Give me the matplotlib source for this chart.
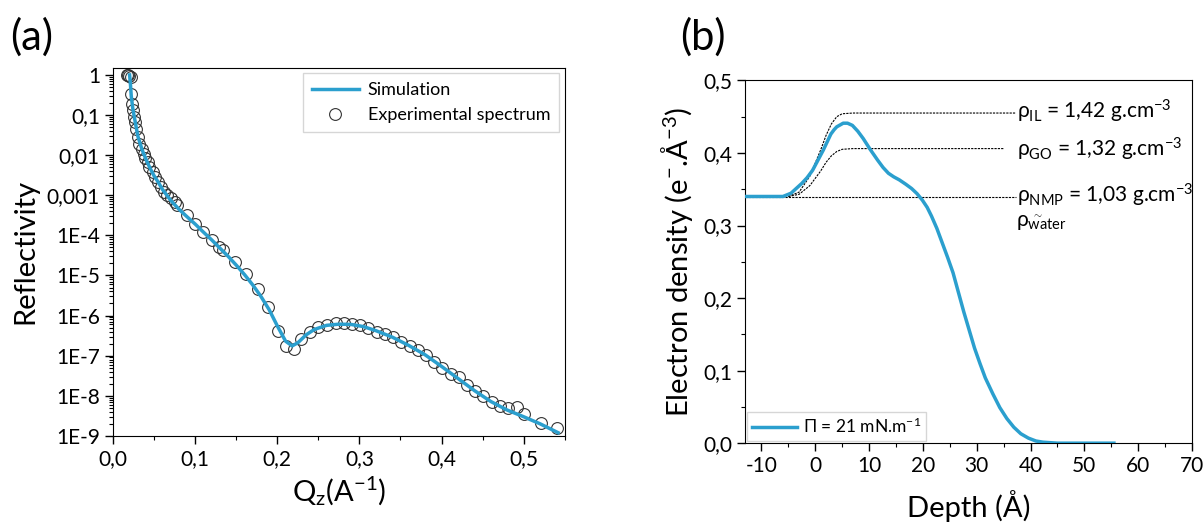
import numpy as np
import matplotlib
matplotlib.use("Agg")
import matplotlib.pyplot as plt
from matplotlib.ticker import FixedLocator, FixedFormatter, MultipleLocator, LogLocator, NullFormatter

plt.rcParams['font.family'] = ['Lato', 'DejaVu Sans']
plt.rcParams['mathtext.fontset'] = 'custom'
plt.rcParams['mathtext.rm'] = 'Lato'
plt.rcParams['mathtext.it'] = 'Lato:italic'
plt.rcParams['mathtext.bf'] = 'Lato:bold'

# ---------------- (a) reflectivity data ----------------
exp_q = [0.017, 0.018, 0.019, 0.022, 0.022, 0.023, 0.024, 0.025, 0.027, 0.028, 0.030,
         0.032, 0.035, 0.037, 0.039, 0.042, 0.044, 0.048, 0.051, 0.055, 0.058, 0.062,
         0.066, 0.070, 0.075, 0.078, 0.090, 0.100, 0.110, 0.120, 0.129, 0.134, 0.149,
         0.162, 0.176, 0.189, 0.201, 0.210, 0.220, 0.229, 0.240, 0.250, 0.261, 0.271,
         0.281, 0.291, 0.301, 0.311, 0.321, 0.331, 0.341, 0.351, 0.361, 0.371, 0.381,
         0.391, 0.401, 0.411, 0.421, 0.431, 0.441, 0.451, 0.461, 0.471, 0.481, 0.492,
         0.501, 0.521, 0.541]
exp_r = [1.0, 1.0, 0.95, 0.88, 0.34, 0.19, 0.13, 0.089, 0.066, 0.045, 0.028,
         0.019, 0.0145, 0.0108, 0.0087, 0.0068, 0.005, 0.0038, 0.0028, 0.0021, 0.0016, 0.0012,
         0.001, 8.3e-4, 6.8e-4, 5.6e-4, 3.2e-4, 1.96e-4, 1.22e-4, 7.6e-5, 5.0e-5, 4.3e-5, 2.2e-5,
         1.07e-5, 4.5e-6, 1.6e-6, 4.2e-7, 1.7e-7, 1.5e-7, 2.6e-7, 4.0e-7, 5.1e-7, 5.8e-7, 6.4e-7,
         6.4e-7, 6.2e-7, 5.7e-7, 4.8e-7, 4.0e-7, 3.5e-7, 2.9e-7, 2.2e-7, 1.75e-7, 1.4e-7, 1.04e-7,
         7.1e-8, 4.9e-8, 3.5e-8, 2.9e-8, 1.86e-8, 1.35e-8, 9.6e-9, 6.8e-9, 5.6e-9, 4.9e-9, 5.2e-9,
         3.5e-9, 2.1e-9, 1.56e-9]

sim_q = [0.020, 0.021, 0.022, 0.024, 0.027, 0.030, 0.035, 0.040, 0.045, 0.050, 0.055,
         0.060, 0.070, 0.080, 0.090, 0.100, 0.110, 0.120, 0.130, 0.140, 0.150, 0.160,
         0.170, 0.180, 0.190, 0.200, 0.210, 0.218, 0.225, 0.235, 0.245, 0.260, 0.275,
         0.290, 0.305, 0.320, 0.340, 0.360, 0.380, 0.400, 0.420, 0.440, 0.460, 0.480,
         0.500, 0.520, 0.542]
sim_r = [1.0, 0.6, 0.3, 0.14, 0.065, 0.03, 0.014, 0.0078, 0.0047, 0.003, 0.0021,
         0.0014, 7.5e-4, 4.5e-4, 2.9e-4, 1.9e-4, 1.2e-4, 7.7e-5, 4.8e-5, 3.0e-5, 1.8e-5, 1.05e-5,
         5.8e-6, 3.0e-6, 1.4e-6, 5.5e-7, 2.3e-7, 1.75e-7, 2.1e-7, 3.3e-7, 4.5e-7, 5.7e-7, 6.1e-7,
         6.0e-7, 5.3e-7, 4.2e-7, 2.9e-7, 1.8e-7, 1.05e-7, 5.4e-8, 2.7e-8, 1.35e-8, 7.2e-9, 4.4e-9,
         3.0e-9, 2.0e-9, 1.2e-9]

a_xticks = [0.0, 0.1, 0.2, 0.3, 0.4, 0.5]
a_xticklabels = ['0,0', '0,1', '0,2', '0,3', '0,4', '0,5']
a_yticks = [1, 1e-1, 1e-2, 1e-3, 1e-4, 1e-5, 1e-6, 1e-7, 1e-8, 1e-9]
a_yticklabels = ['1', '0,1', '0,01', '0,001', '1E-4', '1E-5', '1E-6', '1E-7', '1E-8', '1E-9']

# ---------------- (b) electron density data ----------------
dep_z = [-13, -8, -6, -4.5, -2.5, -1.5, -0.5, 0.5, 1.5, 2.9, 3.5, 4.0, 5.2, 6.0, 6.9, 7.9,
         8.9, 10.2, 11.6, 12.6, 13.6, 14.6, 15.6, 16.8, 17.9, 18.9, 19.9, 20.8, 21.6, 22.6,
         23.6, 24.6, 25.6, 26.6, 27.6, 28.6, 29.6, 30.6, 31.6, 33.0, 34.3, 35.6, 36.9, 38.2,
         39.6, 41.0, 42.3, 45.0, 50.0, 55.5]
dep_rho = [0.340, 0.340, 0.340, 0.3445, 0.358, 0.366, 0.376, 0.390, 0.404, 0.426, 0.432,
           0.436, 0.441, 0.441, 0.438, 0.430, 0.420, 0.405, 0.390, 0.380, 0.372, 0.367,
           0.363, 0.357, 0.351, 0.344, 0.335, 0.325, 0.313, 0.296, 0.276, 0.256, 0.235,
           0.208, 0.181, 0.156, 0.131, 0.110, 0.090, 0.068, 0.049, 0.034, 0.022, 0.013,
           0.007, 0.003, 0.0014, 0.0, 0.0, 0.0]

il_z = [-5, -3, -1, 1, 2, 3, 4, 5, 7, 37.3]
il_rho = [0.340, 0.346, 0.368, 0.404, 0.424, 0.440, 0.450, 0.454, 0.455, 0.455]
go_z = [-5, -3, -1, 1, 2, 3, 4, 5, 7, 35.0]
go_rho = [0.340, 0.343, 0.355, 0.375, 0.387, 0.396, 0.402, 0.405, 0.406, 0.406]
nmp_z = [-13, 37.3]
nmp_rho = [0.339, 0.339]

b_xticks = [-10, 0, 10, 20, 30, 40, 50, 60, 70]
b_xticklabels = ['-10', '0', '10', '20', '30', '40', '50', '60', '70']
b_yticks = [0.0, 0.1, 0.2, 0.3, 0.4, 0.5]
b_yticklabels = ['0,0', '0,1', '0,2', '0,3', '0,4', '0,5']

blue = '#2b9fce'
TICK = 15
LAB = 21

fig = plt.figure(figsize=(12.04, 5.22), dpi=100)

# ---- panel (a)
ax1 = fig.add_axes([0.094, 0.165, 0.375, 0.705])
ax1.plot(sim_q, sim_r, color=blue, lw=2.5, label='Simulation', zorder=3)
ax1.plot(exp_q, exp_r, ls='none', marker='o', ms=8.5, mfc='none', mec='#333333',
         mew=0.8, label='Experimental spectrum', zorder=2)
ax1.set_yscale('log')
ax1.set_xlim(0, 0.55)
ax1.set_ylim(1e-9, 1.5)
ax1.xaxis.set_major_locator(FixedLocator(a_xticks))
ax1.xaxis.set_major_formatter(FixedFormatter(a_xticklabels))
ax1.xaxis.set_minor_locator(MultipleLocator(0.05))
ax1.yaxis.set_major_locator(FixedLocator(a_yticks))
ax1.yaxis.set_major_formatter(FixedFormatter(a_yticklabels))
ax1.yaxis.set_minor_locator(LogLocator(base=10, subs=np.arange(2, 10), numticks=20))
ax1.yaxis.set_minor_formatter(NullFormatter())
ax1.tick_params(which='major', direction='out', length=6, width=1, labelsize=TICK)
ax1.tick_params(which='minor', direction='out', length=3, width=0.8)
ax1.set_xlabel(r'Q$_\mathrm{z}$(A$^{-1}$)', fontsize=LAB, labelpad=4)
ax1.set_ylabel('Reflectivity', fontsize=LAB, labelpad=6)
leg1 = ax1.legend(loc='upper right', fontsize=13, frameon=True, fancybox=False,
                  edgecolor='#cccccc', handlelength=2.6, borderpad=0.5,
                  borderaxespad=0.3, handletextpad=0.5)
leg1.get_frame().set_linewidth(1.0)
fig.text(0.008, 0.93, '(a)', fontsize=30, ha='left', va='center')

# ---- panel (b)
ax2 = fig.add_axes([0.619, 0.151, 0.371, 0.695])
ax2.plot(il_z, il_rho, color='black', ls=(0, (2, 1)), lw=0.8, zorder=2)
ax2.plot(go_z, go_rho, color='black', ls=(0, (2, 1)), lw=0.8, zorder=2)
ax2.plot(nmp_z, nmp_rho, color='black', ls=(0, (2, 1)), lw=0.8, zorder=2)
ax2.plot(dep_z, dep_rho, color=blue, lw=2.5, label=r'$\Pi$ = 21 mN.m$^{-1}$', zorder=3)
ax2.set_xlim(-13, 70)
ax2.set_ylim(0, 0.5)
ax2.xaxis.set_major_locator(FixedLocator(b_xticks))
ax2.xaxis.set_major_formatter(FixedFormatter(b_xticklabels))
ax2.xaxis.set_minor_locator(MultipleLocator(5))
ax2.yaxis.set_major_locator(FixedLocator(b_yticks))
ax2.yaxis.set_major_formatter(FixedFormatter(b_yticklabels))
ax2.yaxis.set_minor_locator(MultipleLocator(0.05))
ax2.tick_params(which='major', direction='out', length=6, width=1, labelsize=TICK)
ax2.tick_params(which='minor', direction='out', length=3, width=0.8)
ax2.set_xlabel('Depth (Å)', fontsize=LAB, labelpad=10)
ax2.set_ylabel(r'Electron density (e$^{-}$.Å$^{-3}$)', fontsize=LAB, labelpad=6)
leg2 = ax2.legend(loc='lower left', fontsize=12.5, frameon=True, fancybox=False,
                  edgecolor='#cccccc', handlelength=2.6, borderpad=0.3,
                  borderaxespad=0.1, handletextpad=0.3)
leg2.get_frame().set_linewidth(1.0)

ann_fs = 15
ax2.text(37.5, 0.457, r'ρ$_{\mathrm{IL}}$ = 1,42 g.cm$^{-3}$', fontsize=ann_fs,
         ha='left', va='center')
ax2.text(37.5, 0.405, r'ρ$_{\mathrm{GO}}$ = 1,32 g.cm$^{-3}$', fontsize=ann_fs,
         ha='left', va='center')
ax2.text(37.5, 0.342, r'ρ$_{\mathrm{NMP}}$ = 1,03 g.cm$^{-3}$', fontsize=ann_fs,
         ha='left', va='center')
ax2.text(37.3, 0.303, r'ρ$_{\overset{\sim}{\mathrm{wa}}\mathrm{ter}}$', fontsize=ann_fs,
         ha='left', va='center')
fig.text(0.565, 0.93, '(b)', fontsize=30, ha='left', va='center')

fig.savefig('out.png', dpi=100)
